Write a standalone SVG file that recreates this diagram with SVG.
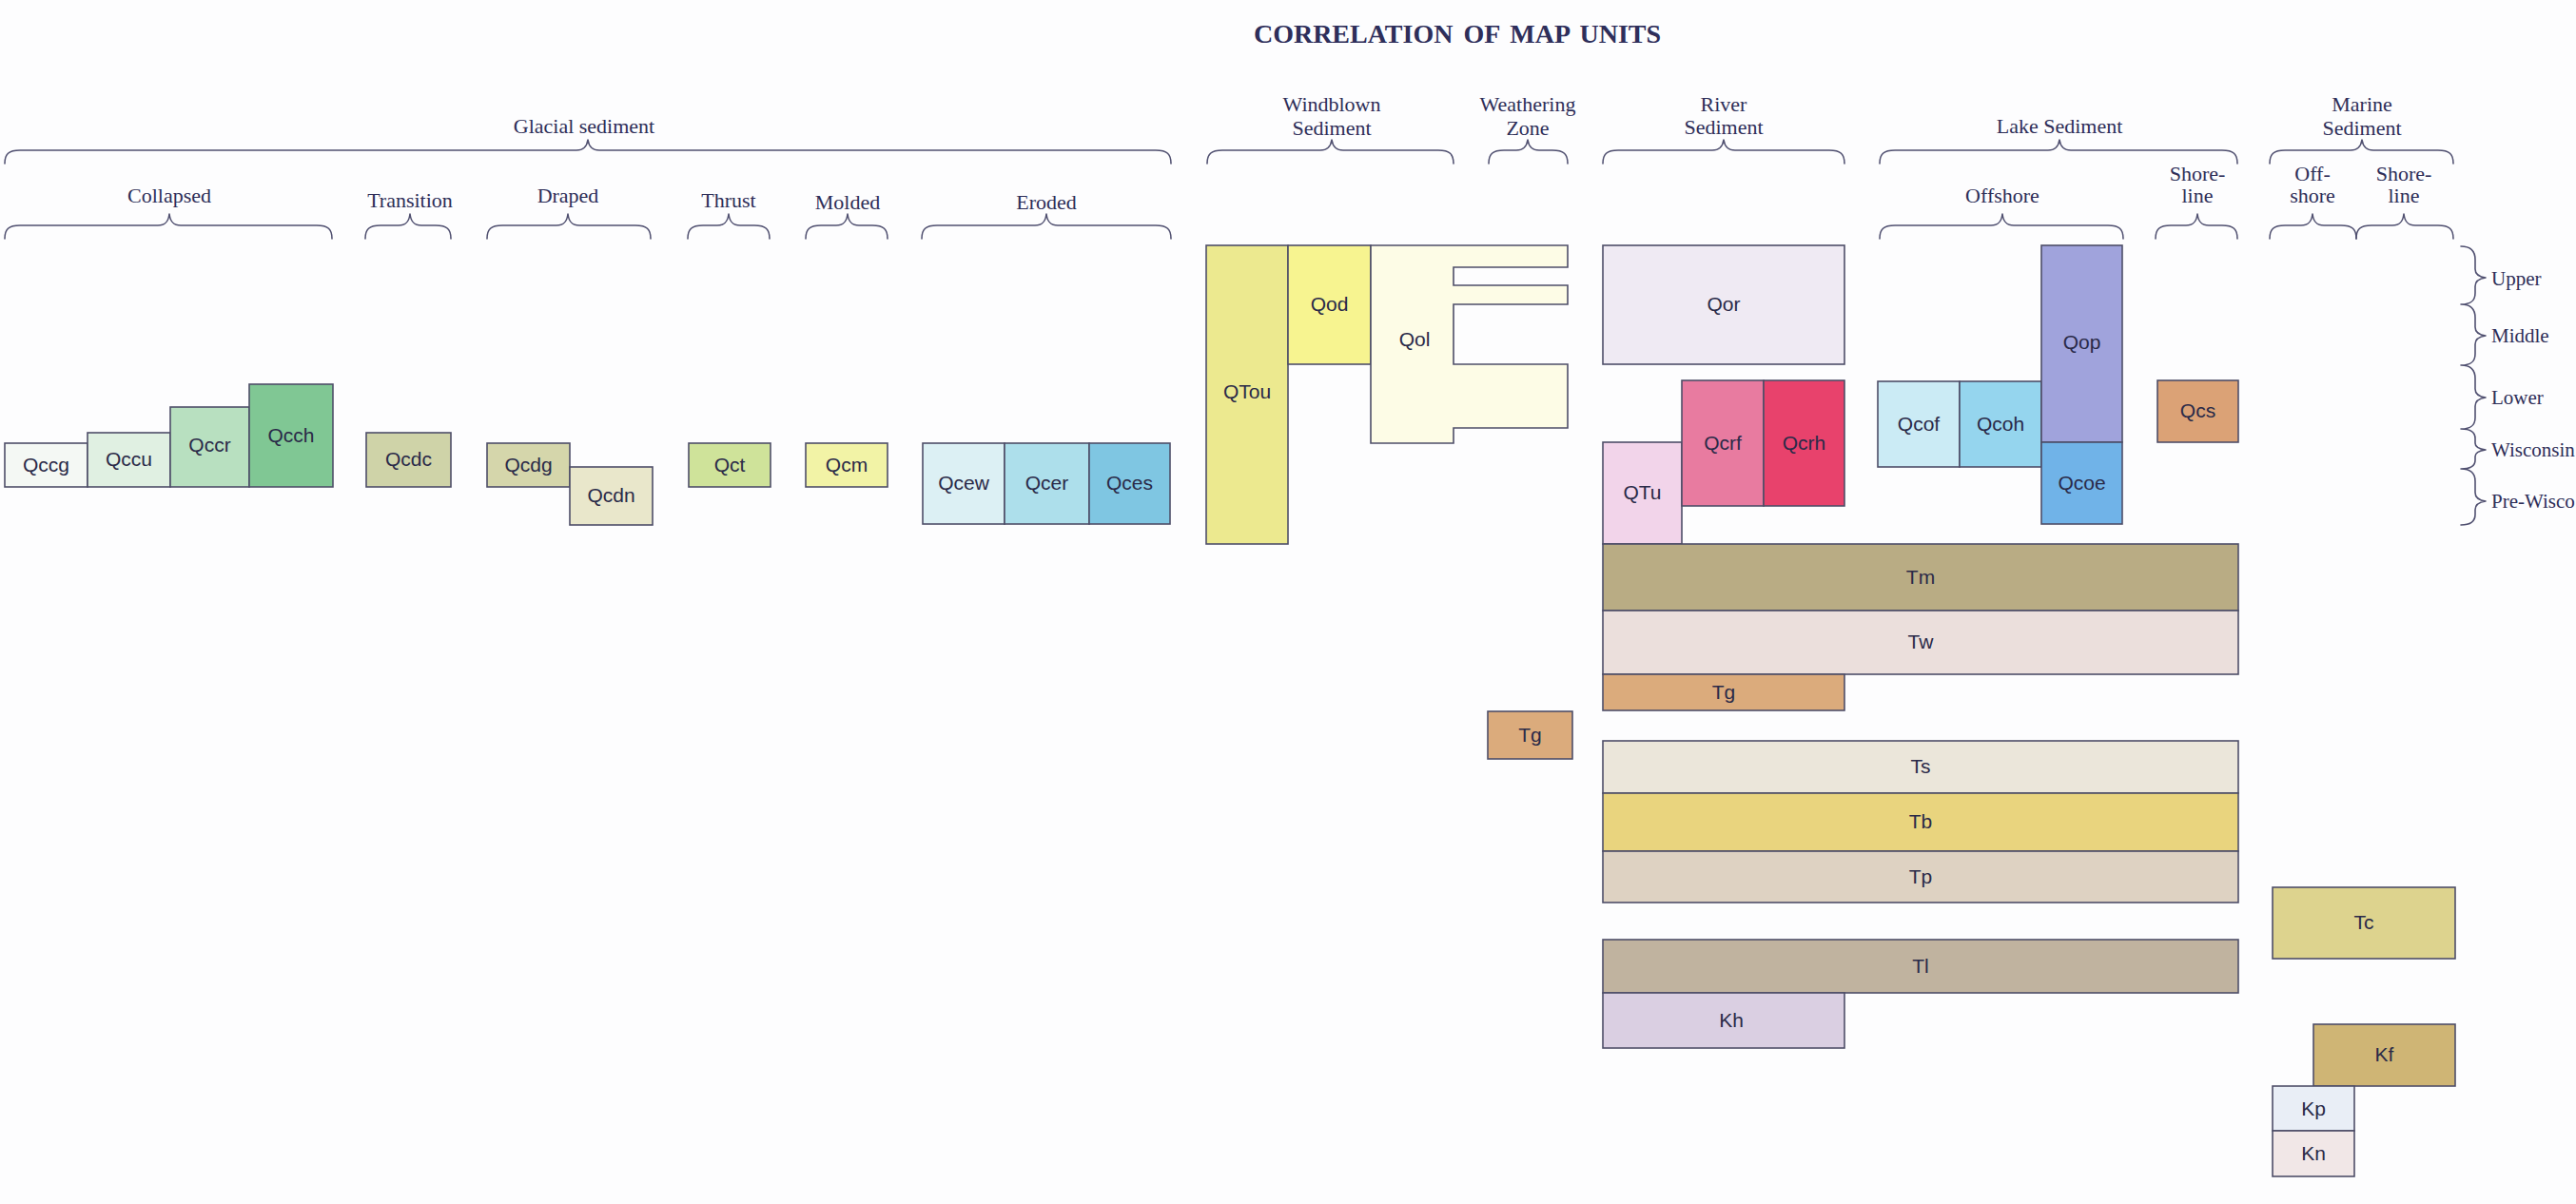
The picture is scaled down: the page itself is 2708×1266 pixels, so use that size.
<svg xmlns="http://www.w3.org/2000/svg" width="2708" height="1266" viewBox="0 0 2708 1266">
<defs>
<style>
.bg{fill:#fdfdfe}
.title{font-family:"Liberation Serif","DejaVu Serif",serif;font-weight:bold;font-size:28px;fill:#2e2e5a;text-anchor:middle;word-spacing:4px}
.hd{font-family:"Liberation Serif","DejaVu Serif",serif;font-size:22px;fill:#2e2e58;text-anchor:middle}
.tm{font-family:"Liberation Serif","DejaVu Serif",serif;font-size:21px;fill:#2e2e58}
.br{fill:none;stroke:#505070;stroke-width:1.6;stroke-linecap:round;stroke-linejoin:round}
.u rect,.u polygon{stroke:#4e4e68;stroke-width:1.6}
.u text{font-family:"Liberation Sans","DejaVu Sans",sans-serif;font-size:21px;fill:#2a2a48;text-anchor:middle}
</style>
</defs>
<rect class="bg" x="0" y="0" width="2708" height="1266"/>
<text class="title" x="1532" y="45">CORRELATION OF MAP UNITS</text>

<g id="headers">
<text class="hd" x="614" y="140">Glacial sediment</text>
<text class="hd" x="178" y="213">Collapsed</text>
<text class="hd" x="431" y="218">Transition</text>
<text class="hd" x="597" y="213">Draped</text>
<text class="hd" x="766" y="218">Thrust</text>
<text class="hd" x="891" y="220">Molded</text>
<text class="hd" x="1100" y="220">Eroded</text>
<text class="hd" x="1400" y="117">Windblown</text>
<text class="hd" x="1400" y="142">Sediment</text>
<text class="hd" x="1606" y="117">Weathering</text>
<text class="hd" x="1606" y="142">Zone</text>
<text class="hd" x="1812" y="117">River</text>
<text class="hd" x="1812" y="141">Sediment</text>
<text class="hd" x="2165" y="140">Lake Sediment</text>
<text class="hd" x="2483" y="117">Marine</text>
<text class="hd" x="2483" y="142">Sediment</text>
<text class="hd" x="2105" y="213">Offshore</text>
<text class="hd" x="2310" y="190">Shore-</text>
<text class="hd" x="2310" y="213">line</text>
<text class="hd" x="2431" y="190">Off-</text>
<text class="hd" x="2431" y="213">shore</text>
<text class="hd" x="2527" y="190">Shore-</text>
<text class="hd" x="2527" y="213">line</text>
<text class="tm" x="2619" y="300">Upper</text>
<text class="tm" x="2619" y="360">Middle</text>
<text class="tm" x="2619" y="425">Lower</text>
<text class="tm" x="2619" y="480">Wisconsin</text>
<text class="tm" x="2619" y="534">Pre-Wisco</text>
</g>

<g id="connectors" class="br">
<path d="M5,172 C5,162 9,158 21,158 L606,158 C614,158 617,154 618,147 C619,154 622,158 630,158 L1215,158 C1227,158 1231,162 1231,172"/>
<path d="M1269,172 C1269,162 1273,158 1285,158 L1388,158 C1396,158 1399,154 1400,147 C1401,154 1404,158 1412,158 L1512,158 C1524,158 1528,162 1528,172"/>
<path d="M1565,172 C1565,162 1569,158 1581,158 L1594,158 C1602,158 1605,154 1606,147 C1607,154 1610,158 1618,158 L1632,158 C1644,158 1648,162 1648,172"/>
<path d="M1685,172 C1685,162 1689,158 1701,158 L1800,158 C1808,158 1811,154 1812,147 C1813,154 1816,158 1824,158 L1923,158 C1935,158 1939,162 1939,172"/>
<path d="M1976,172 C1976,162 1980,158 1992,158 L2153,158 C2161,158 2164,154 2165,147 C2166,154 2169,158 2177,158 L2336,158 C2348,158 2352,162 2352,172"/>
<path d="M2386,172 C2386,162 2390,158 2402,158 L2471,158 C2479,158 2482,154 2483,147 C2484,154 2487,158 2495,158 L2563,158 C2575,158 2579,162 2579,172"/>
<path d="M5,251 C5,241 9,237 21,237 L166,237 C174,237 177,233 178,225 C179,233 182,237 190,237 L333,237 C345,237 349,241 349,251"/>
<path d="M384,251 C384,241 388,237 400,237 L419,237 C427,237 430,233 431,225 C432,233 435,237 443,237 L458,237 C470,237 474,241 474,251"/>
<path d="M512,251 C512,241 516,237 528,237 L585,237 C593,237 596,233 597,225 C598,233 601,237 609,237 L668,237 C680,237 684,241 684,251"/>
<path d="M723,251 C723,241 727,237 739,237 L754,237 C762,237 765,233 766,225 C767,233 770,237 778,237 L793,237 C805,237 809,241 809,251"/>
<path d="M847,251 C847,241 851,237 863,237 L879,237 C887,237 890,233 891,225 C892,233 895,237 903,237 L917,237 C929,237 933,241 933,251"/>
<path d="M969,251 C969,241 973,237 985,237 L1088,237 C1096,237 1099,233 1100,225 C1101,233 1104,237 1112,237 L1215,237 C1227,237 1231,241 1231,251"/>
<path d="M1976,251 C1976,241 1980,237 1992,237 L2093,237 C2101,237 2104,233 2105,225 C2106,233 2109,237 2117,237 L2216,237 C2228,237 2232,241 2232,251"/>
<path d="M2266,251 C2266,241 2270,237 2282,237 L2298,237 C2306,237 2309,233 2310,225 C2311,233 2314,237 2322,237 L2336,237 C2348,237 2352,241 2352,251"/>
<path d="M2386,251 C2386,241 2390,237 2402,237 L2419,237 C2427,237 2430,233 2431,225 C2432,233 2435,237 2443,237 L2461,237 C2473,237 2477,241 2477,251"/>
<path d="M2477,251 C2477,241 2481,237 2493,237 L2515,237 C2523,237 2526,233 2527,225 C2528,233 2531,237 2539,237 L2563,237 C2575,237 2579,241 2579,251"/>
<path d="M2587,259 C2598,259 2602,264 2602,273 L2602,283 C2602,288 2606,291 2613,292 C2606,293 2602,296 2602,301 L2602,308 C2602,316 2598,320 2587,320 C2598,320 2602,325 2602,334 L2602,344 C2602,349 2606,352 2613,353 C2606,354 2602,357 2602,362 L2602,372 C2602,380 2598,384 2587,384 C2598,384 2602,389 2602,398 L2602,409 C2602,414 2606,417 2613,418 C2606,419 2602,422 2602,427 L2602,439 C2602,447 2598,451 2587,451 C2598,451 2602,455 2602,461 L2602,466 C2602,470 2606,472 2613,473 C2606,474 2602,476 2602,480 L2602,484 C2602,490 2598,493 2587,493 C2598,493 2602,498 2602,506 L2602,518 C2602,523 2606,526 2613,527 C2606,528 2602,531 2602,536 L2602,541 C2602,548 2598,552 2587,552"/>
</g>

<g class="u">
<g id="Qccg"><rect x="5" y="466" width="87" height="46" fill="#f4f8f4"/><text x="48.5" y="496">Qccg</text></g>
<g id="Qccu"><rect x="92" y="455" width="87" height="57" fill="#e0f0e2"/><text x="135.5" y="490">Qccu</text></g>
<g id="Qccr"><rect x="179" y="428" width="83" height="84" fill="#b8e0c0"/><text x="220.5" y="475">Qccr</text></g>
<g id="Qcch"><rect x="262" y="404" width="88" height="108" fill="#80c794"/><text x="306" y="465">Qcch</text></g>
<g id="Qcdc"><rect x="385" y="455" width="89" height="57" fill="#cfd3a8"/><text x="429.5" y="490">Qcdc</text></g>
<g id="Qcdg"><rect x="512" y="466" width="87" height="46" fill="#d5d6ab"/><text x="555.5" y="496">Qcdg</text></g>
<g id="Qcdn"><rect x="599" y="491" width="87" height="61" fill="#e9e7cb"/><text x="642.5" y="528">Qcdn</text></g>
<g id="Qct"><rect x="724" y="466" width="86" height="46" fill="#cfe39a"/><text x="767" y="496">Qct</text></g>
<g id="Qcm"><rect x="847" y="466" width="86" height="46" fill="#f2f3a6"/><text x="890" y="496">Qcm</text></g>
<g id="Qcew"><rect x="970" y="466" width="86" height="85" fill="#dcf0f4"/><text x="1013" y="515">Qcew</text></g>
<g id="Qcer"><rect x="1056" y="466" width="89" height="85" fill="#addfeb"/><text x="1100.5" y="515">Qcer</text></g>
<g id="Qces"><rect x="1145" y="466" width="85" height="85" fill="#7fc6e2"/><text x="1187.5" y="515">Qces</text></g>
<g id="QTou"><rect x="1268" y="258" width="86" height="314" fill="#ece98f"/><text x="1311" y="419">QTou</text></g>
<g id="Qod"><rect x="1354" y="258" width="87" height="125" fill="#f7f490"/><text x="1397.5" y="327">Qod</text></g>
<g id="Qol"><polygon points="1441,258 1648,258 1648,281 1528,281 1528,300 1648,300 1648,320 1528,320 1528,383 1648,383 1648,450 1528,450 1528,466 1441,466" fill="#fdfce6"/><text x="1487" y="364">Qol</text></g>
<g id="Qor"><rect x="1685" y="258" width="254" height="125" fill="#efeaf3"/><text x="1812" y="327">Qor</text></g>
<g id="QTu"><rect x="1685" y="465" width="83" height="107" fill="#f2d4ea"/><text x="1726.5" y="525">QTu</text></g>
<g id="Qcrf"><rect x="1768" y="400" width="86" height="132" fill="#e87ba0"/><text x="1811" y="473">Qcrf</text></g>
<g id="Qcrh"><rect x="1854" y="400" width="85" height="132" fill="#e8426c"/><text x="1896.5" y="473">Qcrh</text></g>
<g id="Qcof"><rect x="1974" y="401" width="86" height="90" fill="#cbebf5"/><text x="2017" y="453">Qcof</text></g>
<g id="Qcoh"><rect x="2060" y="401" width="86" height="90" fill="#95d5ee"/><text x="2103" y="453">Qcoh</text></g>
<g id="Qop"><rect x="2146" y="258" width="85" height="207" fill="#a0a3dc"/><text x="2188.5" y="367">Qop</text></g>
<g id="Qcoe"><rect x="2146" y="465" width="85" height="86" fill="#70b3e8"/><text x="2188.5" y="515">Qcoe</text></g>
<g id="Qcs"><rect x="2268" y="400" width="85" height="65" fill="#dba276"/><text x="2310.5" y="439">Qcs</text></g>
<g id="Tm"><rect x="1685" y="572" width="668" height="70" fill="#b9ac84"/><text x="2019" y="614">Tm</text></g>
<g id="Tw"><rect x="1685" y="642" width="668" height="67" fill="#ebdfdc"/><text x="2019" y="682">Tw</text></g>
<g id="Tg-river"><rect x="1685" y="709" width="254" height="38" fill="#dbab7c"/><text x="1812" y="735">Tg</text></g>
<g id="Tg-weathering"><rect x="1564" y="748" width="89" height="50" fill="#dbab7c"/><text x="1608.5" y="780">Tg</text></g>
<g id="Ts"><rect x="1685" y="779" width="668" height="55" fill="#ebe6da"/><text x="2019" y="813">Ts</text></g>
<g id="Tb"><rect x="1685" y="834" width="668" height="61" fill="#e9d47e"/><text x="2019" y="871">Tb</text></g>
<g id="Tp"><rect x="1685" y="895" width="668" height="54" fill="#ded2c2"/><text x="2019" y="929">Tp</text></g>
<g id="Tl"><rect x="1685" y="988" width="668" height="56" fill="#c0b39f"/><text x="2019" y="1023">Tl</text></g>
<g id="Kh"><rect x="1685" y="1044" width="254" height="58" fill="#dacfe2"/><text x="1820" y="1080">Kh</text></g>
<g id="Tc"><rect x="2389" y="933" width="192" height="75" fill="#ddd38e"/><text x="2485" y="977">Tc</text></g>
<g id="Kf"><rect x="2432" y="1077" width="149" height="65" fill="#cfb575"/><text x="2506.5" y="1116">Kf</text></g>
<g id="Kp"><rect x="2389" y="1142" width="86" height="47" fill="#e9eef6"/><text x="2432" y="1173">Kp</text></g>
<g id="Kn"><rect x="2389" y="1189" width="86" height="48" fill="#f1e7e7"/><text x="2432" y="1220">Kn</text></g>
</g>
</svg>
